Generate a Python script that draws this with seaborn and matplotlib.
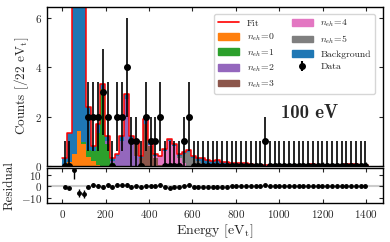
import numpy as np
import pandas as pd
import matplotlib
matplotlib.use("Agg")
import matplotlib.pyplot as plt
import seaborn as sns
from matplotlib.lines import Line2D
from matplotlib.patches import Patch

# 22 eV bins from 0 to 1408 eV
bin_edges = np.arange(0, 1409, 22)
bin_centers = bin_edges[:-1] + 11

# observed counts per bin
data_counts = ([0, 0, 60, 13, 12, 2, 2, 2, 3, 2, 0, 2, 2, 4, 1, 1, 0, 2, 1, 1, 2,
                0, 0, 0, 0, 1, 2] + [0] * 15 + [1] + [0] * 21)

# fitted components (counts per bin)
n_eh0 = [0.0, 0.15, 0.5, 1.4, 0.9, 0.35, 0.2, 0.05] + [0.0] * 56
n_eh1 = [0.0] * 4 + [0.05, 0.3, 0.4, 1.3, 3.1, 0.9, 0.1] + [0.0] * 53
n_eh2 = [0.0] * 9 + [0.1, 0.1, 0.4, 1.0, 2.7, 0.9, 0.4] + [0.0] * 48
n_eh3 = [0.0] * 14 + [0.1, 0.5, 0.3, 1.7, 0.8, 0.3, 0.05] + [0.0] * 43
n_eh4 = [0.0] * 18 + [0.05, 0.1, 0.3, 0.6, 1.0, 0.8, 0.3, 0.1] + [0.0] * 38
n_eh5 = [0.0] * 24 + [0.1, 0.4, 0.55, 0.3, 0.2, 0.1, 0.05] + [0.0] * 33
background = [0.3, 1.2, 45.0, 17.6, 17.55, 1.75, 0.2, 0.35, 0.2, 0.2, 0.1, 0.1,
              0.2, 0.2, 0.2, 0.1, 0.1, 0.2, 0.2, 0.1, 0.05, 0.1, 0.1, 0.1, 0.1,
              0.05, 0.1, 0.1, 0.1, 0.2, 0.2, 0.2, 0.25, 0.15, 0.15, 0.12, 0.1,
              0.1, 0.1, 0.06, 0.05,
              0.04, 0.03, 0.03, 0.04, 0.03, 0.03, 0.03, 0.03, 0.03, 0.03, 0.03,
              0.06, 0.03, 0.03, 0.03, 0.03, 0.03, 0.03, 0.07, 0.07, 0.06, 0.03, 0.03]

labels = [r"$n_{eh}$=0", r"$n_{eh}$=1", r"$n_{eh}$=2", r"$n_{eh}$=3",
          r"$n_{eh}$=4", r"$n_{eh}$=5", "Background"]
colors = ["#ff7f0e", "#2ca02c", "#9467bd", "#8c564b", "#e377c2", "#7f7f7f", "#1f77b4"]

sns.set_style("ticks")
plt.rcParams["font.family"] = ["cmr10", "DejaVu Serif"]
plt.rcParams["mathtext.fontset"] = "cm"
plt.rcParams["axes.formatter.use_mathtext"] = True
plt.rcParams["axes.unicode_minus"] = True
plt.rcParams["xtick.direction"] = "in"
plt.rcParams["ytick.direction"] = "in"
plt.rcParams["xtick.top"] = True
plt.rcParams["ytick.right"] = True
plt.rcParams["axes.edgecolor"] = "black"
plt.rcParams["axes.linewidth"] = 1.0

comps = np.array([n_eh0, n_eh1, n_eh2, n_eh3, n_eh4, n_eh5, background])
cum = np.cumsum(comps, axis=0)
total = cum[-1]
counts = np.array(data_counts, dtype=float)
err_lo = np.sqrt(counts)
err_hi = np.where(counts > 0, np.sqrt(counts), 1.0)

df = pd.DataFrame({"energy": bin_centers})
for i in range(len(labels)):
    df[f"layer{i}"] = cum[i]
df["total"] = total
edges = bin_edges.tolist()

fig = plt.figure(figsize=(3.9, 2.42), dpi=100)
ax = fig.add_axes([0.1205, 0.3145, 0.8615, 0.658])
axr = fig.add_axes([0.1205, 0.1624, 0.8615, 0.1446], sharex=ax)

# stacked components, top layer first so the lower ones draw over it
for i in range(len(labels) - 1, -1, -1):
    sns.histplot(data=df, x="energy", weights=f"layer{i}", bins=edges,
                 element="step", fill=True, color=colors[i], alpha=1.0,
                 linewidth=0, ax=ax)
sns.histplot(data=df, x="energy", weights="total", bins=edges, element="step",
             fill=False, color="red", linewidth=1.1, ax=ax)

ax.errorbar(bin_centers, counts, yerr=[err_lo, err_hi], fmt="o", color="black",
            ms=4, elinewidth=1.2, capsize=0, zorder=5)

ax.set_xlim(-70, 1478)
ax.set_ylim(0, 6.45)
ax.set_yticks([0, 2, 4, 6])
ax.set_xlabel("")
ax.set_ylabel(r"Counts [/22 eV$_\mathrm{t}$]", fontsize=9.5, labelpad=3)
ax.tick_params(labelbottom=False, labelsize=8, length=3)
ax.text(1142, 2.15, "100 eV", fontfamily="cmb10", fontsize=13.5,
        ha="center", va="center")

handles = [Line2D([], [], color="red", lw=1.2)]
handles += [Patch(color=c) for c in colors]
handles.append(ax.errorbar([], [], yerr=[], fmt="o", color="black", ms=4))
leg_labels = ["Fit"] + labels + ["Data"]
ax.legend(handles, leg_labels, ncol=2, loc="upper right", fontsize=7,
          frameon=True, handlelength=2.2, columnspacing=1.8, labelspacing=0.4,
          borderpad=0.4, handletextpad=0.75, bbox_to_anchor=(0.99, 0.985))

# residuals
resid = counts - total
axr.axhline(0, color="#cccccc", lw=1.5, zorder=0)
axr.errorbar(bin_centers, resid, yerr=[err_lo, err_hi], fmt="o", color="black",
             ms=2.5, elinewidth=1.0, capsize=0)
axr.set_ylim(-14.5, 16.5)
axr.set_yticks([-10, 0, 10])
axr.set_xticks(range(0, 1401, 200))
axr.set_ylabel("Residual", fontsize=9.5)
axr.set_xlabel(r"Energy [eV$_\mathrm{t}$]", fontsize=10, labelpad=2)
axr.tick_params(labelsize=8, length=3)

fig.savefig("out.png", dpi=100)
